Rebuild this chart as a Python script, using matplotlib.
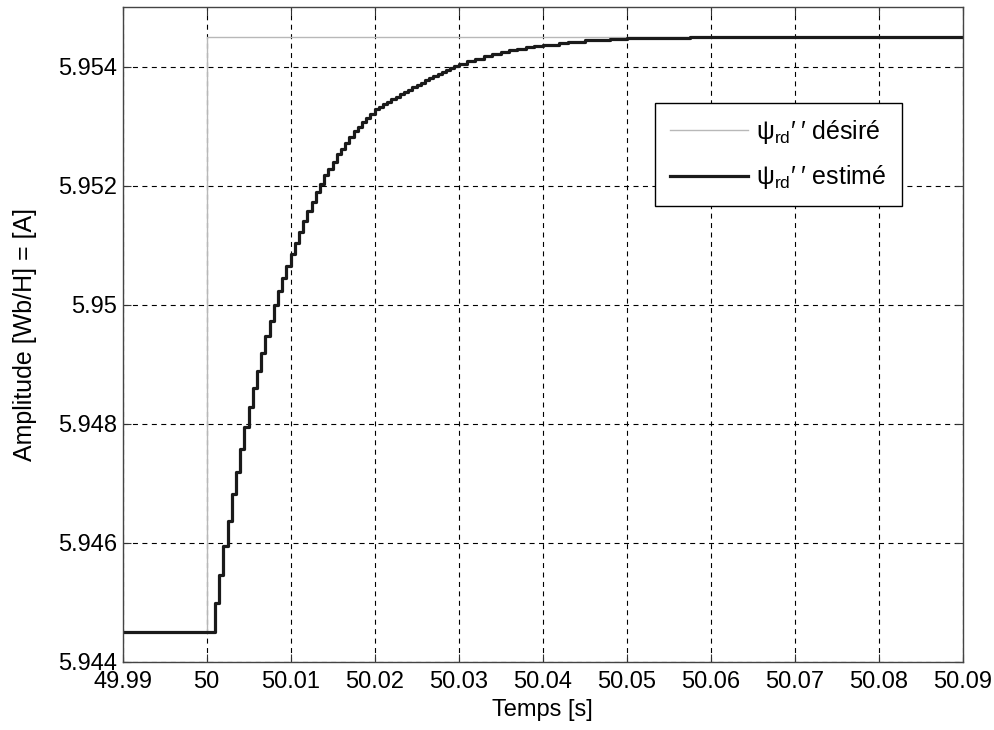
import numpy as np
import matplotlib
matplotlib.use("Agg")
import matplotlib.pyplot as plt

plt.rcParams["font.family"] = ["Liberation Sans", "DejaVu Sans"]
plt.rcParams["mathtext.fontset"] = "custom"
plt.rcParams["mathtext.rm"] = "Liberation Sans"

# Reference (desired) flux
t_des = [49.99, 50.0, 50.0, 50.09]
psi_des = [5.9445, 5.9445, 5.9545, 5.9545]

# Estimated flux, sampled every 0.5 ms during the rise
t_rise = np.arange(59) * 0.0005 + 50.001
psi_rise = [
    5.94499, 5.94546, 5.94594, 5.94636, 5.94682, 5.94719, 5.94758, 5.94794,
    5.94828, 5.94860, 5.94889, 5.94918, 5.94948, 5.94972, 5.94999, 5.95023,
    5.95045, 5.95064, 5.95085, 5.95104, 5.95122, 5.95141, 5.95157, 5.95172,
    5.95189, 5.95203, 5.95217, 5.95228, 5.95239, 5.95253, 5.95261, 5.95272,
    5.95281, 5.95291, 5.95298, 5.95306, 5.95313, 5.95320, 5.95328, 5.95332,
    5.95337, 5.95341, 5.95345, 5.95349, 5.95353, 5.95357, 5.95361, 5.95365,
    5.95369, 5.95373, 5.95377, 5.95380, 5.95384, 5.95387, 5.95391, 5.95394,
    5.95398, 5.95401, 5.95404,
]
# slow tail
t_tail = [50.031, 50.032, 50.033, 50.034, 50.035, 50.036, 50.037, 50.038,
          50.039, 50.040, 50.041, 50.042, 50.043, 50.044, 50.045, 50.046,
          50.048, 50.050, 50.0575, 50.09]
psi_tail = [5.95409, 5.95413, 5.95418, 5.95421, 5.95424, 5.95427, 5.95429,
            5.95432, 5.95434, 5.95436, 5.95437, 5.95439, 5.95441, 5.95442,
            5.95444, 5.95445, 5.95446, 5.95448, 5.95450, 5.95450]

t_est = np.concatenate([[49.99], t_rise, t_tail])
psi_est = np.concatenate([[5.9445], psi_rise, psi_tail])

x_ticks = np.round(np.arange(49.99, 50.0901, 0.01), 2)
x_labels = ["49.99", "50", "50.01", "50.02", "50.03", "50.04", "50.05",
            "50.06", "50.07", "50.08", "50.09"]
y_ticks = [5.944, 5.946, 5.948, 5.95, 5.952, 5.954]
y_labels = ["5.944", "5.946", "5.948", "5.95", "5.952", "5.954"]

fig = plt.figure(figsize=(9.95, 7.3), dpi=100)
ax = fig.add_axes([0.1233, 0.0936, 0.8442, 0.8968])

ax.plot(t_des, psi_des, color="#b8b8b8", lw=1.0,
        label="ψ$_{\\mathregular{rd}}$′\u2009′ désiré")
ax.plot(t_est, psi_est, color="#1a1a1a", lw=2.3, drawstyle="steps-post",
        label="ψ$_{\\mathregular{rd}}$′\u2009′ estimé")

ax.set_xlim(49.99, 50.09)
ax.set_ylim(5.944, 5.955)
ax.set_xticks(x_ticks)
ax.set_xticklabels(x_labels)
ax.set_yticks(y_ticks)
ax.set_yticklabels(y_labels)
ax.tick_params(direction="in", top=True, right=True, length=6,
               labelsize=17, color="#333333")
ax.tick_params(axis="x", pad=7)
ax.tick_params(axis="y", pad=4)
ax.grid(True, color="black", lw=0.8, linestyle=(0, (4.5, 4)))
for sp in ax.spines.values():
    sp.set_color("#444444")
    sp.set_linewidth(1.0)

ax.set_xlabel("Temps [s]", fontsize=17, labelpad=4)
ax.set_ylabel("Amplitude [Wb/H] = [A]", fontsize=18, labelpad=15)

leg = ax.legend(loc="upper left", bbox_to_anchor=(0.634, 0.8534),
                borderaxespad=0, fontsize=18, handlelength=3.1,
                labelspacing=0.7, fancybox=False, framealpha=1,
                edgecolor="black", borderpad=0.6, handletextpad=0.35)
leg.get_frame().set_linewidth(1.0)

fig.savefig("out.png", dpi=100)
